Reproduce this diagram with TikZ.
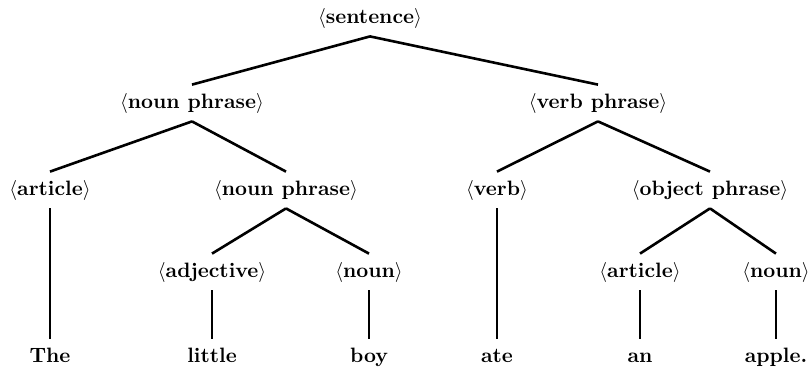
\documentclass[tikz,border=0pt]{standalone}
\begin{document}
\begin{tikzpicture}[x=0.5pt,y=-0.5pt,
  lab/.style={font=\fontsize{10.4}{12}\selectfont\bfseries, inner sep=4pt, text height=7.5pt, text depth=2.5pt},
  edge/.style={line width=1.3pt}]
\useasboundingbox (0,0) rectangle (811,372);
\node[lab] (s)   at (370,18)  {$\langle$sentence$\rangle$};
\node[lab] (np)  at (192,103) {$\langle$noun phrase$\rangle$};
\node[lab] (vp)  at (598,103) {$\langle$verb phrase$\rangle$};
\node[lab] (a1)  at (50,190)  {$\langle$article$\rangle$};
\node[lab] (np2) at (286,190) {$\langle$noun phrase$\rangle$};
\node[lab] (v)   at (497,190) {$\langle$verb$\rangle$};
\node[lab] (op)  at (710,190) {$\langle$object phrase$\rangle$};
\node[lab] (adj) at (212,272) {$\langle$adjective$\rangle$};
\node[lab] (n1)  at (369,272) {$\langle$noun$\rangle$};
\node[lab] (a2)  at (640,272) {$\langle$article$\rangle$};
\node[lab] (n2)  at (776,272) {$\langle$noun$\rangle$};
\node[lab] (w1)  at (50,357)  {The};
\node[lab] (w2)  at (212,357) {little};
\node[lab] (w3)  at (369,357) {boy};
\node[lab] (w4)  at (497,357) {ate};
\node[lab] (w5)  at (640,357) {an};
\node[lab] (w6)  at (776,357) {apple.};
\draw[edge] (s.south) -- (np.north);
\draw[edge] (s.south) -- (vp.north);
\draw[edge] (np.south) -- (a1.north);
\draw[edge] (np.south) -- (np2.north);
\draw[edge] (vp.south) -- (v.north);
\draw[edge] (vp.south) -- (op.north);
\draw[edge] (np2.south) -- (adj.north);
\draw[edge] (np2.south) -- (n1.north);
\draw[edge] (op.south) -- (a2.north);
\draw[edge] (op.south) -- (n2.north);
\draw[edge] (a1.south) -- (w1.north);
\draw[edge] (adj.south) -- (w2.north);
\draw[edge] (n1.south) -- (w3.north);
\draw[edge] (v.south) -- (w4.north);
\draw[edge] (a2.south) -- (w5.north);
\draw[edge] (n2.south) -- (w6.north);
\end{tikzpicture}
\end{document}
